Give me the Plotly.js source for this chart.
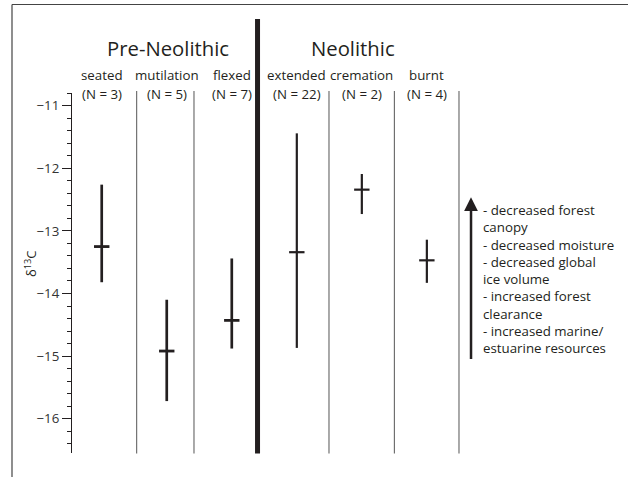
<!DOCTYPE html>
<html>
<head>
<meta charset="utf-8">
<script src="https://cdn.plot.ly/plotly-3.0.1.min.js"></script>
<style>html,body{margin:0;padding:0;background:#fff;}#chart{width:628px;height:477px;}</style>
</head>
<body>
<div id="chart"></div>
<script>
// ---- data ----
const categories = ['seated', 'mutilation', 'flexed', 'extended', 'cremation', 'burnt'];
const sampleN = [3, 5, 7, 22, 2, 4];
const meanD13C = [-13.25, -14.92, -14.43, -13.34, -12.34, -13.47];
const maxD13C = [-12.26, -14.10, -13.44, -11.44, -12.09, -13.14];
const minD13C = [-13.82, -15.72, -14.88, -14.87, -12.73, -13.83];
const periods = ['Pre-Neolithic', 'Neolithic'];
const periodOf = [0, 0, 0, 1, 1, 1];
const notes = ['- decreased forest', 'canopy', '- decreased moisture', '- decreased global',
  'ice volume', '- increased forest', 'clearance', '- increased marine/', 'estuarine resources'];
const yTitle = 'δ<sup>13</sup>C';

// ---- layout helpers ----
const W = 628, H = 477;
const M = {l: 72, r: 8, t: 93, b: 24};
const plotH = H - M.t - M.b;
const plotW = W - M.l - M.r;
const py = p => 1 + (M.t - p) / plotH;       // pixel y -> paper y
const px = p => (p - M.l) / plotW;           // pixel x -> paper x
const FONT = 'Open Sans, Noto Sans, sans-serif';
const INK = '#231f20';

function makeTrace(period, barW, tickW) {
  const idx = categories.map((c, i) => i).filter(i => periodOf[i] === period);
  return {
    type: 'scatter', mode: 'markers',
    x: idx.map(i => i),
    y: idx.map(i => meanD13C[i]),
    error_y: {
      type: 'data', symmetric: false,
      array: idx.map(i => maxD13C[i] - meanD13C[i]),
      arrayminus: idx.map(i => meanD13C[i] - minD13C[i]),
      width: 0, thickness: barW, color: INK
    },
    marker: {symbol: 'line-ew', size: 11, color: INK, line: {width: tickW, color: INK}},
    hoverinfo: 'skip', showlegend: false, cliponaxis: false
  };
}
const traces = [makeTrace(0, 2.7, 2.8), makeTrace(1, 2.2, 2.2)];

// separators between categories (x in axis units)
const thinSeps = [0.538, 1.419, 3.495, 4.5, 5.494];
const shapes = thinSeps.map(x => ({
  type: 'line', xref: 'x', yref: 'paper', x0: x, x1: x, y0: py(453.5), y1: py(91),
  line: {color: '#555', width: 1}
}));
shapes.push({type: 'line', xref: 'x', yref: 'paper', x0: 2.396, x1: 2.396,
  y0: py(453.5), y1: py(19), line: {color: INK, width: 5}});
// outer frame (top and left)
shapes.push({type: 'line', xref: 'paper', yref: 'paper', x0: px(12), x1: px(640),
  y0: py(4.5), y1: py(4.5), line: {color: '#444', width: 1.2}});
shapes.push({type: 'line', xref: 'paper', yref: 'paper', x0: px(12), x1: px(12),
  y0: py(4.5), y1: py(480), line: {color: '#444', width: 1.2}});

const annotations = [];
// period titles
[[1.015, 0], [3.869, 1]].forEach(([x, p]) => annotations.push({
  x: x, y: py(48), xref: 'x', yref: 'paper', text: periods[p], showarrow: false,
  font: {family: FONT, size: 20.3, color: INK}, xanchor: 'center', yanchor: 'middle'
}));
// category labels and N
categories.forEach((c, i) => {
  annotations.push({x: i, y: py(75), xref: 'x', yref: 'paper', text: c, showarrow: false,
    font: {family: FONT, size: 13.3, color: INK}, xanchor: 'center', yanchor: 'middle'});
  annotations.push({x: i, y: py(93.5), xref: 'x', yref: 'paper', text: '(N = ' + sampleN[i] + ')',
    showarrow: false, font: {family: FONT, size: 13.3, color: INK}, xanchor: 'center', yanchor: 'middle'});
});
// y title
annotations.push({x: px(30), y: py(264), xref: 'paper', yref: 'paper', text: yTitle, textangle: -90,
  showarrow: false, font: {family: FONT, size: 13, color: INK}, xanchor: 'center', yanchor: 'middle'});
// arrow
annotations.push({x: 5.679, y: -12.46, xref: 'x', yref: 'y', ax: 5.679, ay: -15.07,
  axref: 'x', ayref: 'y', text: '', showarrow: true, arrowhead: 2, arrowsize: 1.1,
  arrowwidth: 2.5, arrowcolor: INK, standoff: 0, startstandoff: 0});
// notes
annotations.push({x: 5.835, y: -13.77, xref: 'x', yref: 'y', text: notes.join('<br>'),
  showarrow: false, align: 'left', xanchor: 'left', yanchor: 'middle',
  font: {family: FONT, size: 13.3, color: INK}});

const layout = {
  width: W, height: H, margin: M,
  paper_bgcolor: '#fff', plot_bgcolor: '#fff',
  showlegend: false,
  xaxis: {range: [-0.457, 7.97], visible: false, fixedrange: true},
  yaxis: {
    range: [-16.55, -10.795], showgrid: false, zeroline: false,
    showline: true, linecolor: INK, linewidth: 1,
    dtick: 1, tick0: 0, ticks: 'outside', ticklen: 9, tickwidth: 1, tickcolor: INK,
    tickfont: {family: FONT, size: 13.3, color: '#333'},
    minor: {dtick: 0.2, ticks: 'outside', ticklen: 4, tickwidth: 1, tickcolor: INK, showgrid: false},
    fixedrange: true
  },
  shapes: shapes, annotations: annotations
};
Plotly.newPlot('chart', traces, layout, {staticPlot: true, displayModeBar: false});
</script>
</body>
</html>
